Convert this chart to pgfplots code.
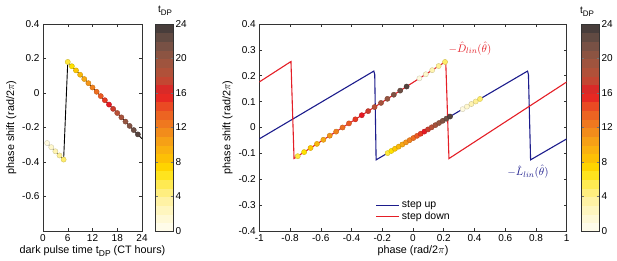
\documentclass[border=0pt]{standalone}
\usepackage{pgfplots}
\pgfplotsset{compat=1.18}
\usepackage{pgfplotstable}
\usepackage{fontspec}
\setmainfont{Liberation Sans}
\definecolor{mblue}{RGB}{28,28,140}
\definecolor{mred}{RGB}{228,30,38}
\pgfplotsset{
  colormap={tdp}{rgb255(0)=(255,253,242) rgb255(2)=(255,248,205) rgb255(4)=(255,240,150) rgb255(6)=(255,232,60) rgb255(7)=(255,225,0) rgb255(8)=(255,200,0) rgb255(10)=(248,170,20) rgb255(12)=(240,130,30) rgb255(14)=(235,90,35) rgb255(16)=(230,25,35) rgb255(17)=(205,60,45) rgb255(18)=(185,80,55) rgb255(20)=(150,85,65) rgb255(22)=(110,80,70) rgb255(24)=(60,55,55)},
  /pgf/number format/assume math mode=true,
}
\pgfplotstableread{
t y
1 -0.290
2 -0.314
3 -0.338
4 -0.362
5 -0.386
6 0.180
7 0.155
8 0.131
9 0.106
10 0.081
11 0.057
12 0.032
13 0.007
14 -0.018
15 -0.042
16 -0.067
17 -0.092
18 -0.116
19 -0.141
20 -0.166
21 -0.191
22 -0.215
23 -0.240
}\leftdots
\pgfplotstableread{
t y
1 -0.290
2 -0.314
3 -0.338
4 -0.362
5 -0.386
6 0.180
24 -0.265
}\leftline
\pgfplotstableread{
t x y
6 -0.7500 -0.1109
7 -0.7083 -0.0950
8 -0.6667 -0.0792
9 -0.6250 -0.0634
10 -0.5833 -0.0475
11 -0.5417 -0.0317
12 -0.5000 -0.0159
13 -0.4583 0.0000
14 -0.4167 0.0158
15 -0.3750 0.0316
16 -0.3333 0.0475
17 -0.2917 0.0633
18 -0.2500 0.0791
19 -0.2083 0.0950
20 -0.1667 0.1108
21 -0.1250 0.1266
22 -0.0833 0.1425
23 -0.0417 0.1583
1 0.0417 0.1900
2 0.0833 0.2058
3 0.1250 0.2216
4 0.1667 0.2375
5 0.2083 0.2533
}\reddots
\pgfplotstableread{
t x y
6 -0.1650 -0.0989
7 -0.1411 -0.0906
8 -0.1173 -0.0823
9 -0.0934 -0.0740
10 -0.0695 -0.0657
11 -0.0456 -0.0573
12 -0.0217 -0.0490
13 0.0021 -0.0407
14 0.0260 -0.0324
15 0.0499 -0.0241
16 0.0738 -0.0158
17 0.0976 -0.0075
18 0.1215 0.0008
19 0.1454 0.0091
20 0.1693 0.0174
21 0.1932 0.0258
22 0.2170 0.0340
23 0.2410 0.0424
1 0.3230 0.0709
2 0.3510 0.0807
3 0.3800 0.0908
4 0.4080 0.1005
5 0.4360 0.1102
}\bluedots
% colour scale: 24 steps (x = column, y = step centre, c = level)
\pgfplotstableread{
x y c
0 0.5 0.5
1 0.5 0.5
0 1.5 1.5
1 1.5 1.5
0 2.5 2.5
1 2.5 2.5
0 3.5 3.5
1 3.5 3.5
0 4.5 4.5
1 4.5 4.5
0 5.5 5.5
1 5.5 5.5
0 6.5 6.5
1 6.5 6.5
0 7.5 7.5
1 7.5 7.5
0 8.5 8.5
1 8.5 8.5
0 9.5 9.5
1 9.5 9.5
0 10.5 10.5
1 10.5 10.5
0 11.5 11.5
1 11.5 11.5
0 12.5 12.5
1 12.5 12.5
0 13.5 13.5
1 13.5 13.5
0 14.5 14.5
1 14.5 14.5
0 15.5 15.5
1 15.5 15.5
0 16.5 16.5
1 16.5 16.5
0 17.5 17.5
1 17.5 17.5
0 18.5 18.5
1 18.5 18.5
0 19.5 19.5
1 19.5 19.5
0 20.5 20.5
1 20.5 20.5
0 21.5 21.5
1 21.5 21.5
0 22.5 22.5
1 22.5 22.5
0 23.5 23.5
1 23.5 23.5
}\cbar
\begin{document}
\begin{tikzpicture}[font=\fontsize{10}{12}\selectfont]
\path[use as bounding box] (0,0) rectangle (617pt,261pt);
\pgfplotsset{
  mystyle/.style={
    scale only axis, height=207pt,
    axis line style={black!80, line width=0.5pt},
    tick style={black!80, line width=0.5pt},
    major tick length=3pt,
    point meta min=0, point meta max=24,
    ticklabel style={font=\fontsize{10}{12}\selectfont},
    label style={font=\fontsize{10.8}{13}\selectfont},
  },
  cbstyle/.style={
    scale only axis, width=18pt, height=207pt,
    xmin=-0.5, xmax=1.5, ymin=0, ymax=24,
    xtick=\empty, ytick={0,4,8,12,16,20,24},
    yticklabel pos=right,
    axis on top,
    axis line style={black!80, line width=0.5pt},
    major tick length=2.5pt,
    tick style={black!55, densely dotted, line width=0.5pt},
    point meta min=0, point meta max=24,
    yticklabel style={font=\fontsize{10}{12}\selectfont, xshift=-1pt},
  },
  dots/.style={scatter, only marks, mark=*, mark size=2.6pt, scatter src=explicit,
    scatter/use mapped color={draw=mapped color!82!black, fill=mapped color}},
}
% ---------- left axis ----------
\begin{axis}[mystyle,
  at={(43pt,30pt)}, anchor=south west, width=99pt,
  xmin=0, xmax=24, ymin=-0.8, ymax=0.4,
  xtick={0,6,12,18,24},
  ytick={-0.6,-0.4,-0.2,0,0.2,0.4},
  yticklabels={-0.6,-0.4,-0.2,0,0.2,0.4},
  xlabel={dark pulse time t\raisebox{-0.55ex}{\fontsize{8.5}{9}\selectfont DP} (CT hours)},
  ylabel={phase shift (rad/2$\pi$)},
  ylabel style={yshift=-1pt},
  xlabel style={yshift=3pt},
]
\addplot[black, line width=0.9pt] table[x=t,y=y] {\leftline};
\addplot[dots] table[x=t,y=y,meta=t] {\leftdots};
\end{axis}
% left colour scale
\begin{axis}[cbstyle, at={(155pt,30pt)}, anchor=south west]
\addplot[matrix plot*, mesh/cols=2, point meta=explicit] table[x=x,y=y,meta=c] {\cbar};
\end{axis}
\node at (165pt,250pt) {t\raisebox{-0.55ex}{\fontsize{8}{9}\selectfont DP}};
% ---------- right axis ----------
\begin{axis}[mystyle,
  at={(259.3pt,30pt)}, anchor=south west, width=307.4pt,
  xmin=-1, xmax=1, ymin=-0.4, ymax=0.4,
  xtick={-1,-0.8,-0.6,-0.4,-0.2,0,0.2,0.4,0.6,0.8,1},
  xticklabels={-1,-0.8,-0.6,-0.4,-0.2,0,0.2,0.4,0.6,0.8,1},
  ytick={-0.4,-0.3,-0.2,-0.1,0,0.1,0.2,0.3,0.4},
  yticklabels={-0.4,-0.3,-0.2,-0.1,0,0.1,0.2,0.3,0.4},
  xlabel={phase (rad/2$\pi$)},
  ylabel={phase shift (rad/2$\pi$)},
  xlabel style={yshift=3pt},
  ylabel style={yshift=-1pt},
  legend style={at={(0.375,0.16)}, anchor=north west, draw=none, fill=none,
    font=\fontsize{10.5}{12}\selectfont, row sep=-1.5pt, inner sep=1pt},
  legend cell align=left,
  legend image code/.code={\draw[#1] (0pt,0pt) -- (23pt,0pt);},
]
\addplot[mblue, line width=1.1pt] coordinates {(-1,-0.044) (-0.255,0.218) (-0.249,0.205) (-0.24,-0.125) (0.745,0.218) (0.751,0.205) (0.765,-0.125) (1,-0.044)};
\addlegendentry{step up}
\addplot[mred, line width=1.1pt] coordinates {(-1,0.176) (-0.794,0.255) (-0.774,-0.12) (0.213,0.255) (0.234,-0.12) (1,0.176)};
\addlegendentry{step down}
\addplot[dots, forget plot] table[x=x,y=y,meta=t] {\reddots};
\addplot[dots, forget plot] table[x=x,y=y,meta=t] {\bluedots};
\node[mred, font=\fontsize{11}{13}\selectfont] at (axis cs:0.371,0.306) {$-\hat{D}_{lin}(\hat{\theta})$};
\node[mblue, font=\fontsize{11}{13}\selectfont] at (axis cs:0.748,-0.172) {$-\hat{L}_{lin}(\hat{\theta})$};
\end{axis}
% right colour scale
\begin{axis}[cbstyle, at={(581pt,30pt)}, anchor=south west]
\addplot[matrix plot*, mesh/cols=2, point meta=explicit] table[x=x,y=y,meta=c] {\cbar};
\end{axis}
\node at (587pt,249pt) {t\raisebox{-0.55ex}{\fontsize{8}{9}\selectfont DP}};
\end{tikzpicture}
\end{document}
